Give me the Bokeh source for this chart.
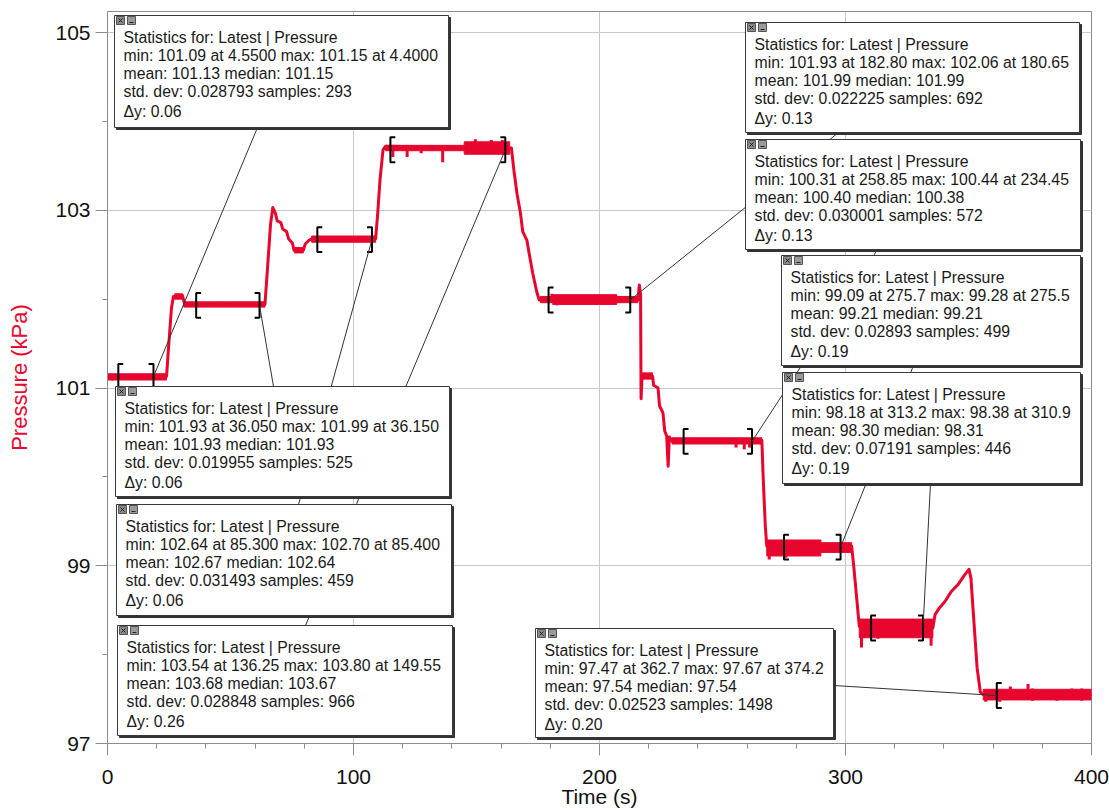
from bokeh.plotting import figure
from bokeh.models import Range1d, FixedTicker
from bokeh.embed import file_html
from bokeh.resources import INLINE
from bokeh.core.properties import value

# ---------------- pressure trace (Time in s, Pressure in kPa) ----------------
time_s = [0.0, 1.5, 2.0, 3.0, 24.0, 24.8, 26.0, 26.8, 30.5, 31.2, 33.0, 64.0,
          64.8, 66.3, 67.2, 68.2, 69.0, 70.5, 71.2, 72.8, 73.6, 75.2, 75.8,
          79.6, 80.4, 81.8, 83.0, 109.0, 109.8, 110.8, 112.0, 113.0, 164.2,
          165.2, 166.5, 167.8, 168.8, 170.5, 171.5, 172.8, 174.5, 175.5,
          215.6, 216.2, 216.7, 216.9, 217.3, 221.6, 222.0, 223.8, 224.4,
          225.8, 226.5, 227.3, 227.9, 228.4, 229.5, 266.0, 266.6, 267.4,
          268.0, 302.5, 303.4, 304.6, 305.6, 335.5, 336.4, 338.0, 340.5,
          343.0, 345.8, 348.5, 350.2, 351.0, 352.0, 353.5, 354.8, 356.0,
          440.0]
pressure_kpa = [101.12, 101.12, 101.10, 101.13, 101.13, 101.45, 101.90, 102.03,
                102.04, 101.96, 101.93, 101.94, 102.25, 102.85, 103.03, 102.97,
                102.88, 102.86, 102.79, 102.76, 102.68, 102.63, 102.55, 102.55,
                102.62, 102.66, 102.68, 102.68, 102.95, 103.35, 103.68, 103.72,
                103.70, 103.45, 103.18, 102.98, 102.76, 102.66, 102.50, 102.30,
                102.08, 101.99, 101.99, 102.16, 102.05, 100.88, 101.13, 101.13,
                101.03, 101.00, 100.80, 100.72, 100.52, 100.46, 100.12, 100.45,
                100.40, 100.41, 99.95, 99.45, 99.22, 99.22, 98.98, 98.62, 98.32,
                98.30, 98.45, 98.52, 98.60, 98.71, 98.79, 98.90, 98.96, 98.86,
                98.45, 97.85, 97.58, 97.55, 97.55]

# sensor noise envelope on the steady plateaus
band_t0 = [0.0, 27.3, 31.0, 76.0, 83.0, 113.0, 145.0, 176.0, 181.0, 217.3,
           229.5, 268.0, 290.0, 305.6, 356.0]
band_t1 = [24.0, 30.5, 64.0, 79.6, 109.0, 145.0, 163.5, 215.6, 207.0, 221.6,
           266.0, 290.0, 302.5, 335.5, 440.0]
band_lo = [101.09, 102.00, 101.91, 102.52, 102.64, 103.67, 103.63, 101.96,
           101.94, 101.10, 100.37, 99.11, 99.15, 98.19, 97.49]
band_hi = [101.16, 102.06, 101.97, 102.58, 102.71, 103.73, 103.77, 102.03,
           102.05, 101.17, 100.44, 99.29, 99.26, 98.40, 97.61]

# individual glitches in the readings
spike_t = [116.0, 121.8, 127.5, 136.25, 149.55, 156.0, 160.5, 180.65, 182.8,
           234.45, 255.5, 258.85, 261.0, 269.0, 275.5, 275.7, 306.5, 310.9,
           313.2, 334.8, 357.0, 362.7, 367.0, 374.2, 376.0, 386.0, 392.0, 396.0]
spike_lo = [103.60, 103.60, 103.64, 103.54, 103.68, 103.66, 103.64, 101.99,
            101.93, 100.40, 100.33, 100.31, 100.33, 99.07, 99.21, 99.09, 98.08,
            98.30, 98.18, 98.10, 97.47, 97.47, 97.54, 97.54, 97.48, 97.48,
            97.49, 97.48]
spike_hi = [103.70, 103.70, 103.70, 103.70, 103.80, 103.79, 103.79, 102.06,
            101.99, 100.44, 100.40, 100.40, 100.40, 99.22, 99.28, 99.21, 98.30,
            98.38, 98.30, 98.30, 97.60, 97.55, 97.64, 97.67, 97.62, 97.55,
            97.62, 97.62]

# ---------------- statistics regions ----------------
reg_start = [4.4, 36.05, 85.3, 115.0, 179.3, 234.2, 275.0, 310.4, 361.5]
reg_end = [18.7, 61.8, 107.5, 161.7, 212.5, 262.0, 298.0, 331.5, 436.4]
reg_mean = [101.13, 101.93, 102.67, 103.68, 101.99, 100.40, 99.21, 98.30, 97.54]
stat_min = ["101.09", "101.93", "102.64", "103.54", "101.93", "100.31", "99.09", "98.18", "97.47"]
stat_min_at = ["4.5500", "36.050", "85.300", "136.25", "182.80", "258.85", "275.7", "313.2", "362.7"]
stat_max = ["101.15", "101.99", "102.70", "103.80", "102.06", "100.44", "99.28", "98.38", "97.67"]
stat_max_at = ["4.4000", "36.150", "85.400", "149.55", "180.65", "234.45", "275.5", "310.9", "374.2"]
stat_mean = ["101.13", "101.93", "102.67", "103.68", "101.99", "100.40", "99.21", "98.30", "97.54"]
stat_median = ["101.15", "101.93", "102.64", "103.67", "101.99", "100.38", "99.21", "98.31", "97.54"]
stat_std = ["0.028793", "0.019955", "0.031493", "0.028848", "0.022225", "0.030001", "0.02893", "0.07191", "0.02523"]
stat_samples = ["293", "525", "459", "966", "692", "572", "499", "446", "1498"]
stat_dy = ["0.06", "0.06", "0.06", "0.26", "0.13", "0.13", "0.19", "0.19", "0.20"]

# ---------------- layout of the statistics boxes (pixels) ----------------
FRAME_L, FRAME_T, FRAME_W, FRAME_H = 107, 11, 984, 732
X_MIN, X_MAX = 0.0, 400.0
Y_MIN, Y_MAX = 97.0, 97.0 + FRAME_H / 88.875

def X(px):
    return X_MIN + (px - FRAME_L) * (X_MAX - X_MIN) / FRAME_W

def Y(py):
    return Y_MAX - (py - FRAME_T) * (Y_MAX - Y_MIN) / FRAME_H

box_left = [114, 115, 116, 117, 745, 745, 781, 782, 535]
box_top = [15, 386, 504, 625, 22, 139, 255, 372, 628]
box_right = [448, 449, 451, 452, 1079, 1080, 1080, 1080, 833]
box_bottom = [127, 496, 615, 735, 132, 249, 365, 483, 737]
leader_from = [(257, 127), (273, 386), (298, 504), (305, 625), (838, 132),
               (877, 249), (913, 365), (930, 483), (833, 685)]
leader_to_start = [False] * 8 + [True]

RED = "#e8062f"
FONT = "Liberation Sans"

p = figure(frame_width=FRAME_W, frame_height=FRAME_H,
           min_border_left=FRAME_L, min_border_top=FRAME_T,
           min_border_right=18, min_border_bottom=66,
           x_range=Range1d(X_MIN, X_MAX), y_range=Range1d(Y_MIN, Y_MAX),
           output_backend="svg", toolbar_location=None,
           background_fill_color="white", border_fill_color="white")
p.outline_line_color = "#8c8c8c"
p.outline_line_width = 1

# axes
p.xaxis.ticker = FixedTicker(ticks=[0, 100, 200, 300, 400],
                             minor_ticks=list(range(0, 401, 20)))
p.yaxis.ticker = FixedTicker(ticks=[97, 99, 101, 103, 105],
                             minor_ticks=[98, 100, 102, 104])
for ax in (p.xaxis[0], p.yaxis[0]):
    ax.axis_line_color = "#8c8c8c"
    ax.major_tick_line_color = "#8c8c8c"
    ax.minor_tick_line_color = "#8c8c8c"
    ax.major_tick_out = 12
    ax.major_tick_in = 0
    ax.minor_tick_out = 5
    ax.minor_tick_in = 0
    ax.major_label_text_font = FONT
    ax.major_label_text_font_size = "21px"
    ax.major_label_text_color = "#111111"
    ax.axis_label_text_font = FONT
    ax.axis_label_text_font_style = "normal"
p.xaxis.axis_label = "Time (s)"
p.xaxis.axis_label_text_font_size = "21px"
p.xaxis.axis_label_text_color = "#111111"
p.xaxis.major_label_standoff = 14
p.xaxis.axis_label_standoff = -2
p.yaxis.axis_label = "Pressure (kPa)"
p.yaxis.axis_label_text_font_size = "22px"
p.yaxis.axis_label_text_color = RED
p.yaxis.major_label_standoff = 5
p.yaxis.axis_label_standoff = 20

p.xgrid.grid_line_color = "#c8c8c8"
p.ygrid.grid_line_color = "#c8c8c8"
p.xgrid.grid_line_width = 1
p.ygrid.grid_line_width = 1

# pressure trace
p.quad(left=band_t0, right=band_t1, bottom=band_lo, top=band_hi,
       fill_color=RED, line_color=RED, line_width=1)
p.segment(x0=spike_t, y0=spike_lo, x1=spike_t, y1=spike_hi,
          line_color=RED, line_width=3)
p.line(time_s, pressure_kpa, line_color=RED, line_width=3,
       line_join="round")

# region brackets
half_h, serif = 0.14, 2.0
bx, by = [], []
for t0, t1, m in zip(reg_start, reg_end, reg_mean):
    bx.append([t0 + serif, t0, t0, t0 + serif])
    by.append([m + half_h, m + half_h, m - half_h, m - half_h])
    bx.append([t1 - serif, t1, t1, t1 - serif])
    by.append([m + half_h, m + half_h, m - half_h, m - half_h])
p.multi_line(bx, by, line_color="black", line_width=2)

# leader lines from boxes to regions
lx, ly = [], []
for i, (fx, fy) in enumerate(leader_from):
    tx = reg_start[i] if leader_to_start[i] else reg_end[i]
    lx.append([X(fx), tx])
    ly.append([Y(fy), reg_mean[i]])
p.multi_line(lx, ly, line_color="#333333", line_width=1)

# statistics boxes
p.quad(left=[X(v + 2) for v in box_left], right=[X(v + 2) for v in box_right],
       top=[Y(v + 2) for v in box_top], bottom=[Y(v + 2) for v in box_bottom],
       fill_color="#333333", line_color="#333333", line_width=1)
p.quad(left=[X(v) for v in box_left], right=[X(v) for v in box_right],
       top=[Y(v) for v in box_top], bottom=[Y(v) for v in box_bottom],
       fill_color="white", line_color="#3a3a3a", line_width=1)

# close / minimise buttons
p.quad(left=[X(v + 2) for v in box_left], right=[X(v + 10) for v in box_left],
       top=[Y(v + 1) for v in box_top], bottom=[Y(v + 9) for v in box_top],
       fill_color="#8a8a8a", line_color="#555555", line_width=1)
p.quad(left=[X(v + 13) for v in box_left], right=[X(v + 21) for v in box_left],
       top=[Y(v + 1) for v in box_top], bottom=[Y(v + 9) for v in box_top],
       fill_color="#9a9a9a", line_color="#555555", line_width=1)
p.segment(x0=[X(v + 4) for v in box_left], y0=[Y(v + 3) for v in box_top],
          x1=[X(v + 8) for v in box_left], y1=[Y(v + 7) for v in box_top],
          line_color="#222222", line_width=1)
p.segment(x0=[X(v + 4) for v in box_left], y0=[Y(v + 7) for v in box_top],
          x1=[X(v + 8) for v in box_left], y1=[Y(v + 3) for v in box_top],
          line_color="#222222", line_width=1)
p.segment(x0=[X(v + 15) for v in box_left], y0=[Y(v + 7) for v in box_top],
          x1=[X(v + 19) for v in box_left], y1=[Y(v + 7) for v in box_top],
          line_color="#222222", line_width=1)

tx_, ty_, tt_ = [], [], []
line_offsets = [22, 40, 58, 76, 96]
for i in range(len(box_left)):
    lines = [
        "Statistics for: Latest | Pressure",
        f"min: {stat_min[i]} at {stat_min_at[i]} max: {stat_max[i]} at {stat_max_at[i]}",
        f"mean: {stat_mean[i]} median: {stat_median[i]}",
        f"std. dev: {stat_std[i]} samples: {stat_samples[i]}",
        f"\u0394y: {stat_dy[i]}",
    ]
    for off, s in zip(line_offsets, lines):
        tx_.append(X(box_left[i] + 9))
        ty_.append(Y(box_top[i] + off))
        tt_.append(s)
p.text(x=tx_, y=ty_, text=tt_, text_font=value(FONT), text_font_size="15.8px",
       text_baseline="middle", text_align="left", text_color="#1a1a1a")

open("out.html", "w").write(file_html(p, INLINE))
